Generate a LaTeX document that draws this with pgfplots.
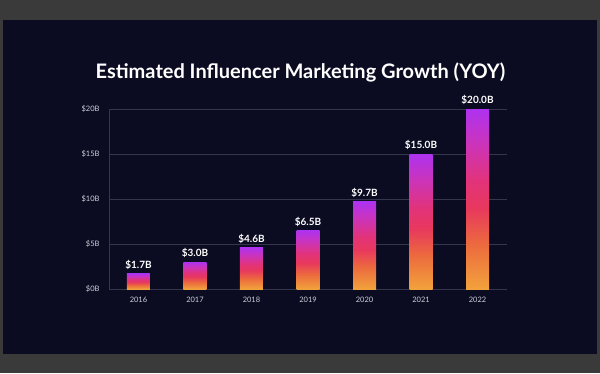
\documentclass[border=0pt]{standalone}
\usepackage{pgfplots}
\pgfplotsset{compat=1.18}
\usepackage{fontspec}
\setmainfont{Lato}
\definecolor{outer}{HTML}{3A3A3A}
\definecolor{panel}{HTML}{0B0B22}
\definecolor{gridc}{HTML}{35354C}
\definecolor{tickc}{HTML}{D0D0DA}
\definecolor{g0}{HTML}{F2A23C}
\definecolor{g1}{HTML}{EC6A3E}
\definecolor{g2}{HTML}{E8385E}
\definecolor{g3}{HTML}{E2337A}
\definecolor{g4}{HTML}{CC34B8}
\definecolor{g5}{HTML}{AE32F0}
\pgfdeclareverticalshading{bargrad}{100bp}{color(0bp)=(g0); color(25bp)=(g0); color(37.5bp)=(g1); color(47.5bp)=(g2); color(55bp)=(g3); color(65bp)=(g4); color(75bp)=(g5); color(100bp)=(g5)}
\begin{document}
\begin{tikzpicture}[x=1pt,y=1pt]
\fill[outer] (0,0) rectangle (600,373);
\fill[panel] (3,19) rectangle (597,353);
\node[white, font=\fontsize{20}{23}\selectfont\bfseries] at (300.5,301) {Estimated Influencer Marketing Growth (YOY)};
\begin{axis}[
  at={(109pt,84pt)}, anchor=south west,
  scale only axis, width=398pt, height=180pt,
  xmin=-0.522, xmax=6.522, ymin=0, ymax=20,
  axis lines=left,
  axis line style={draw=gridc, line width=0.8pt, -},
  ymajorgrids, grid style={draw=gridc, line width=0.8pt},
  major tick length=0pt,
  xtick={0,1,2,3,4,5,6},
  xticklabels={2016,2017,2018,2019,2020,2021,2022},
  ytick={0,5,10,15,20},
  yticklabels={\$0B,\$5B,\$10B,\$15B,\$20B},
  ticklabel style={font=\fontsize{7.5}{9}\selectfont, text=tickc},
  xticklabel style={yshift=-4.5pt},
  yticklabel style={xshift=-6pt},
  clip=false,
  /pgf/number format/assume math mode=true,
  gbar/.style={ybar, bar width=23pt, bar shift=0pt, draw=none,
    shading=bargrad,
    nodes near coords={\$\pgfmathprintnumber[fixed,fixed zerofill,precision=1,assume math mode=true]{\pgfplotspointmeta}B},
    every node near coord/.append style={white, font=\fontsize{10}{12}\selectfont\bfseries, yshift=0.5pt}},
]
\addplot[gbar] coordinates {(0,1.7)};
\addplot[gbar] coordinates {(1,3.0)};
\addplot[gbar] coordinates {(2,4.6)};
\addplot[gbar] coordinates {(3,6.5)};
\addplot[gbar] coordinates {(4,9.7)};
\addplot[gbar] coordinates {(5,15.0)};
\addplot[gbar] coordinates {(6,20.0)};
\end{axis}
\end{tikzpicture}
\end{document}
